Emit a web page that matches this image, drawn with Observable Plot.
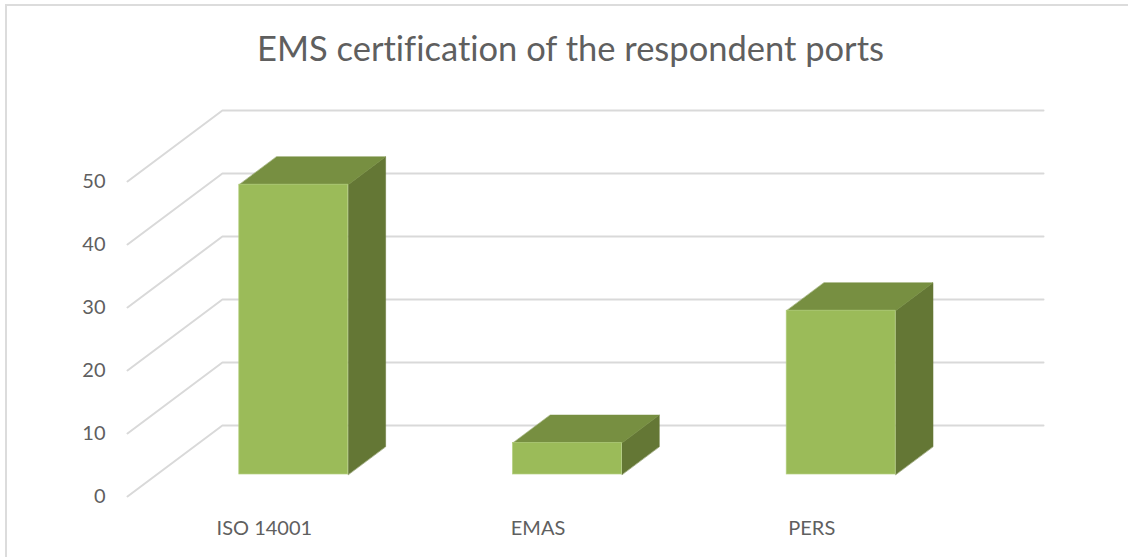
<!DOCTYPE html>
<html>
<head>
<meta charset="utf-8">
<script src="https://cdn.jsdelivr.net/npm/d3@7"></script>
<script src="https://cdn.jsdelivr.net/npm/@observablehq/plot@0.6"></script>
<style>
  html, body { margin: 0; padding: 0; background: #fff; overflow: hidden; }
  #chart { position: relative; width: 1128px; height: 557px; box-sizing: border-box; }
  #frame { position: absolute; left: 5px; top: 4px; right: 0; bottom: 0; border-left: 2px solid #dcdcdc; border-top: 2px solid #dcdcdc; }
  #title { position: absolute; left: 0; width: 1141px; top: 27px; text-align: center; font: 34.5px Lato, sans-serif; color: #5f5f5f; font-variant-ligatures: none; }
  #plot { position: absolute; left: 0; top: 0; }
  svg { display: block; background: transparent !important; }
</style>
</head>
<body>
<div id="chart">
  <div id="frame"></div>
  <div id="title">EMS certification of the respondent ports</div>
  <div id="plot"></div>
</div>
<script>
const categories = ["ISO 14001", "EMAS", "PERS"];
const values = [46, 5, 26];
const yTicks = [0, 10, 20, 30, 40, 50];

// Oblique projection of the 3D floor, in scale units (slots and value units) per unit of depth
const depthX = 0.3467;
const depthY = 11.27;
const barHalf = 0.199;
const barNear = 0.31;
const barFar = 0.704;

const project = (slot, value, depth) => ({ x: slot + depthX * depth, y: value + depthY * depth });

const gridLines = yTicks.flatMap(v => [
  { id: v, ...project(0, v, 0) },
  { id: v, ...project(0, v, 1) },
  { id: v, ...project(categories.length, v, 1) }
]);

const bars = categories.map((name, i) => ({ name, value: values[i], slot: i + 0.5 }));

const fronts = bars.map(b => {
  const a = project(b.slot - barHalf, 0, barNear);
  const c = project(b.slot + barHalf, b.value, barNear);
  return { x1: a.x, x2: c.x, y1: a.y, y2: c.y };
});
const tops = bars.flatMap(b => [
  [b.slot - barHalf, barNear], [b.slot + barHalf, barNear],
  [b.slot + barHalf, barFar], [b.slot - barHalf, barFar]
].map(([s, d]) => ({ id: b.name, ...project(s, b.value, d) })));
const sides = bars.flatMap(b => [
  [0, barNear], [b.value, barNear], [b.value, barFar], [0, barFar]
].map(([v, d]) => ({ id: b.name, ...project(b.slot + barHalf, v, d) })));

const plot = Plot.plot({
  width: 1128,
  height: 557,
  marginTop: 110,
  marginBottom: 61,
  marginLeft: 127,
  marginRight: 85,
  x: { domain: [0, categories.length + depthX], axis: null },
  y: { domain: [0, 50 + depthY], axis: null },
  style: { fontFamily: "Lato, sans-serif", background: "transparent" },
  marks: [
    Plot.line(gridLines, { x: "x", y: "y", z: "id", stroke: "#d9d9d9", strokeWidth: 2, curve: "linear" }),
    Plot.axisY({ ticks: yTicks, anchor: "left", tickSize: 0, tickPadding: 22, label: null, fontSize: 20, color: "#5f5f5f" }),
    Plot.line(sides, { x: "x", y: "y", z: "id", fill: "#647735", stroke: "#647735", strokeWidth: 0.5, curve: "linear-closed" }),
    Plot.line(tops, { x: "x", y: "y", z: "id", fill: "#778f41", stroke: "#778f41", strokeWidth: 0.5, curve: "linear-closed" }),
    Plot.rect(fronts, { x1: "x1", x2: "x2", y1: "y1", y2: "y2", fill: "#9bbb59", stroke: "#b3cf7e", strokeWidth: 0.7 }),
    Plot.text(bars, { x: "slot", y: () => 0, text: "name", dy: 32, fontSize: 20, fill: "#5f5f5f" })
  ]
});
document.getElementById("plot").appendChild(plot);
</script>
</body>
</html>
